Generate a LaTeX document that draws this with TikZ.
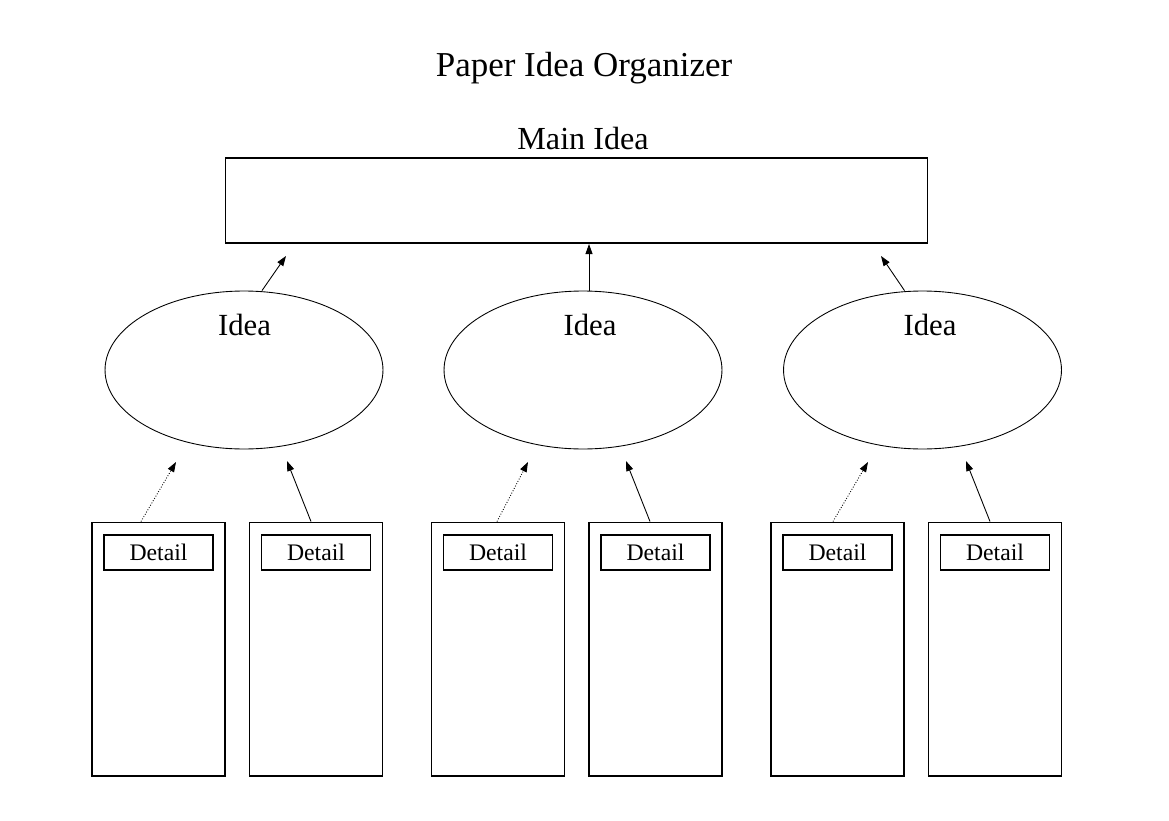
\documentclass[tikz,border=0pt]{standalone}
\usepackage{fontspec}
\setmainfont{Liberation Serif}
\usetikzlibrary{arrows.meta,shapes.geometric,calc}
\tikzset{
  mainbox/.style={rectangle,draw,line width=0.6pt,minimum width=14.06cm,minimum height=1.7cm},
  ideaoval/.style={ellipse,draw,line width=0.5pt,minimum width=5.56cm,minimum height=3.16cm,inner sep=0pt},
  column/.style={rectangle,draw,line width=0.6pt,minimum width=2.66cm,minimum height=5.08cm},
  tag/.style={rectangle,draw,line width=0.6pt,minimum width=2.18cm,minimum height=0.7cm,inner sep=0pt,font=\fontsize{13.5}{15}\selectfont},
  heading/.style={font=\fontsize{17.5}{20}\selectfont},
  link/.style={-{Triangle[length=2mm,width=1.4mm]},line width=0.5pt},
  dotlink/.style={link,densely dotted}
}

\begin{document}
\begin{tikzpicture}[x=0.02cm,y=-0.02cm]
    \useasboundingbox (0,0) rectangle (1169,821);
    \node[font=\fontsize{19.9}{22}\selectfont] (title) at (584,68) {Paper Idea Organizer};
    \node[heading,font=\fontsize{18.3}{20}\selectfont] (mainlabel) at (583,139) {Main Idea};
    \node[mainbox] (main) at (576.5,200.5) {};
    % the three ideas
    \node[ideaoval] (idea1) at (244,370) {};
    \node[ideaoval] (idea2) at (583,370) {};
    \node[ideaoval] (idea3) at (922.5,370) {};
    \node[heading] (idealabel1) at (244.5,325) {Idea};
    \node[heading] (idealabel2) at (590,325) {Idea};
    \node[heading] (idealabel3) at (930,325) {Idea};
    % detail columns
    \foreach \i/\x in {1/158.5,2/316,3/498,4/655.5,5/837.5,6/995}{
      \node[column] (col\i) at (\x,649) {};
      \node[tag] (tag\i) at (\x,552.5) {Detail};
    }
    % arrow tips
    \coordinate (up1) at (286,256);
    \coordinate (up2) at (589,244);
    \coordinate (up3) at (881,256);
    \coordinate (tip1) at (176,462);
    \coordinate (tip2) at (287,461);
    \coordinate (tip3) at (528,462);
    \coordinate (tip4) at (626,461);
    \coordinate (tip5) at (868,462);
    \coordinate (tip6) at (966,461);
    \draw[link] ($(idea1.north)+(18,0)$) -- (up1);
    \draw[link] ($(idea2.north)+(6,0)$) -- (up2);
    \draw[link] ($(idea3.north)+(-18,0)$) -- (up3);
    \draw[dotlink] ($(col1.north)+(-17.5,0)$) -- (tip1);
    \draw[link] ($(col2.north)+(-5,0)$) -- (tip2);
    \draw[dotlink] ($(col3.north)+(-1,0)$) -- (tip3);
    \draw[link] ($(col4.north)+(-5.5,0)$) -- (tip4);
    \draw[dotlink] ($(col5.north)+(-4.5,0)$) -- (tip5);
    \draw[link] ($(col6.north)+(-5,0)$) -- (tip6);
\end{tikzpicture}
\end{document}
